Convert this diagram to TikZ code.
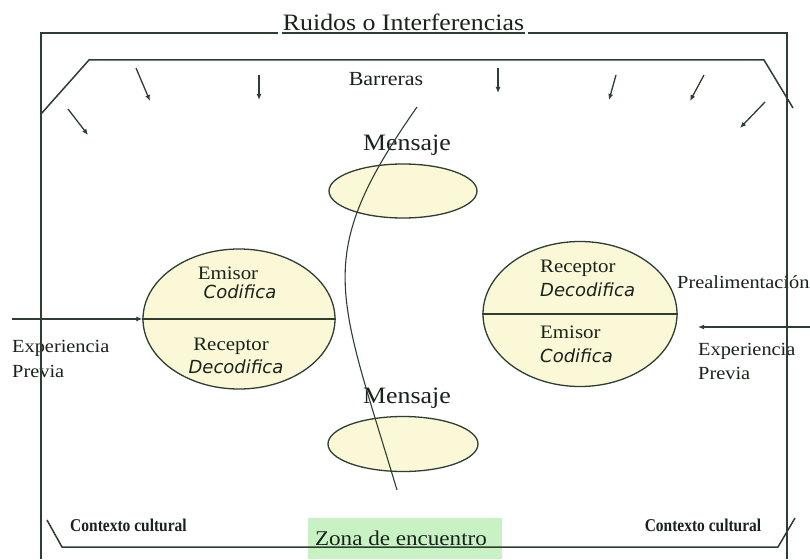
\documentclass[tikz,border=0pt]{standalone}
\usepackage{fontspec}
\setmainfont{Liberation Serif}[FakeStretch=1.1]
\newfontfamily\itsans{DejaVu Sans}
\newfontfamily\ctxfont{Liberation Serif}[FakeStretch=0.86]
\usetikzlibrary{shapes.geometric,arrows.meta}
\definecolor{linec}{RGB}{45,62,50}
\definecolor{textc}{RGB}{25,35,27}
\definecolor{ellfill}{RGB}{250,248,215}
\definecolor{zonafill}{RGB}{200,242,195}
\newcommand{\fsz}[1]{\fontsize{#1}{#1}\selectfont}
\begin{document}
\begin{tikzpicture}[x=1pt,y=-1pt,
  ln/.style={draw=linec,line width=1.5pt},
  thin/.style={draw=linec,line width=1.1pt},
  arr/.style={draw=linec,line width=1.3pt,-{Latex[length=6pt,width=5pt]}},
  ell/.style={ellipse,draw=linec,line width=1.3pt,fill=ellfill,inner sep=0pt},
  lbl/.style={text=textc,inner sep=0pt,anchor=base},
  lblw/.style={text=textc,inner sep=0pt,anchor=base west},
  itl/.style={text=textc,inner sep=0pt,font=\itsans\itshape\fsz{18}}]
\useasboundingbox (0,0) rectangle (810,559);
\fill[white] (0,0) rectangle (810,559);
% green zone box
\fill[zonafill] (308,518) rectangle (502,559);
% outer frame
\coordinate (o1) at (41,559);
\coordinate (o2) at (41,33);
\coordinate (o3) at (278,33);
\coordinate (o4) at (282,33);
\coordinate (o5) at (525,33);
\coordinate (o6) at (528,33);
\coordinate (o7) at (787,33);
\coordinate (o8) at (787,559);
\draw[ln] (o1) -- (o2) -- (o3);
\draw[ln] (o4) -- (o5);
\draw[ln] (o6) -- (o7) -- (o8);
\node[lbl,font=\fsz{23.5}] (ruidos) at (403.5,31) {Ruidos o Interferencias};
% inner barrier frame
\coordinate (i1) at (41,114);
\coordinate (i2) at (89,60);
\coordinate (i3) at (764,60);
\coordinate (i4) at (793,108);
\draw[ln] (i1) -- (i2) -- (i3) -- (i4);
\node[lbl,font=\fsz{20}] (barreras) at (386,86) {Barreras};
% barrier arrows
\foreach \a/\b/\c/\d [count=\i] in {68/109/88/135, 136/68/150/101, 259/75/259/100, 498/68/498/93, 616/75/609/100, 704/75/690/101, 765/102/740/128}{
  \coordinate (bs\i) at (\a,\b);
  \coordinate (be\i) at (\c,\d);
  \draw[arr] (bs\i) -- (be\i);
}
% message ellipses
\node[ell,minimum width=148pt,minimum height=54pt] (m1) at (403,191) {};
\node[ell,minimum width=150pt,minimum height=55pt] (m2) at (403,444) {};
\node[lbl,font=\fsz{23.5}] (mt1) at (407,150) {Mensaje};
\node[lbl,font=\fsz{23.5}] (mt2) at (407,403) {Mensaje};
% encounter curve
\coordinate (c1) at (417,107);
\coordinate (c2) at (397,490);
\draw[thin] (c1) .. controls (312,257) and (337,290) .. (c2);
% left ellipse
\node[ell,minimum width=192pt,minimum height=140pt] (L) at (239,319) {};
\draw[ln] (L.west) -- (L.east);
\node[lbl,font=\fsz{19}] (le) at (228,279) {Emisor};
\node[itl,anchor=base] (lc) at (240,298) {Codifica};
\node[lbl,font=\fsz{19}] (lr) at (231,350) {Receptor};
\node[itl,anchor=base] (ld) at (236,373) {Decodifica};
% right ellipse
\node[ell,minimum width=194pt,minimum height=145pt] (R) at (580,314) {};
\draw[ln] (R.west) -- (R.east);
\node[lblw,font=\fsz{19}] (rr) at (540,272) {Receptor};
\node[itl,anchor=base west] (rd) at (540,296) {Decodifica};
\node[lblw,font=\fsz{19}] (re) at (540,338) {Emisor};
\node[itl,anchor=base west] (rc) at (540,362) {Codifica};
% left experience
\coordinate (la) at (12,319);
\draw[arr] (la) -- (L.west);
\node[lblw,font=\fsz{18.5}] (lx1) at (12,352) {Experiencia};
\node[lblw,font=\fsz{18.5}] (lx2) at (12,377) {Previa};
% right experience
\coordinate (ra1) at (810,327);
\coordinate (ra2) at (698,327);
\draw[arr] (ra1) -- (ra2);
\node[lblw,font=\fsz{18.5}] (rx1) at (698,355) {Experiencia};
\node[lblw,font=\fsz{18.5}] (rx2) at (698,379) {Previa};
\node[lblw,font=\fsz{18.5}] (pre) at (677,288) {Prealimentación};
% redraw frame lines over texts
\draw[ln] (o1) -- (o2);
\draw[ln] (o7) -- (o8);
% bottom cultural context
\coordinate (b1) at (47,520);
\coordinate (b2) at (62,547);
\coordinate (b3) at (778,547);
\coordinate (b4) at (795,518);
\node[lbl,font=\fsz{21}] (zona) at (401,545) {Zona de encuentro};
\draw[ln] (b1) -- (b2) -- (b3) -- (b4);
\node[lbl,font=\ctxfont\bfseries\fsz{18}] (cc1) at (128.5,531) {Contexto cultural};
\node[lbl,font=\ctxfont\bfseries\fsz{18}] (cc2) at (703,531) {Contexto cultural};
\end{tikzpicture}
\end{document}
